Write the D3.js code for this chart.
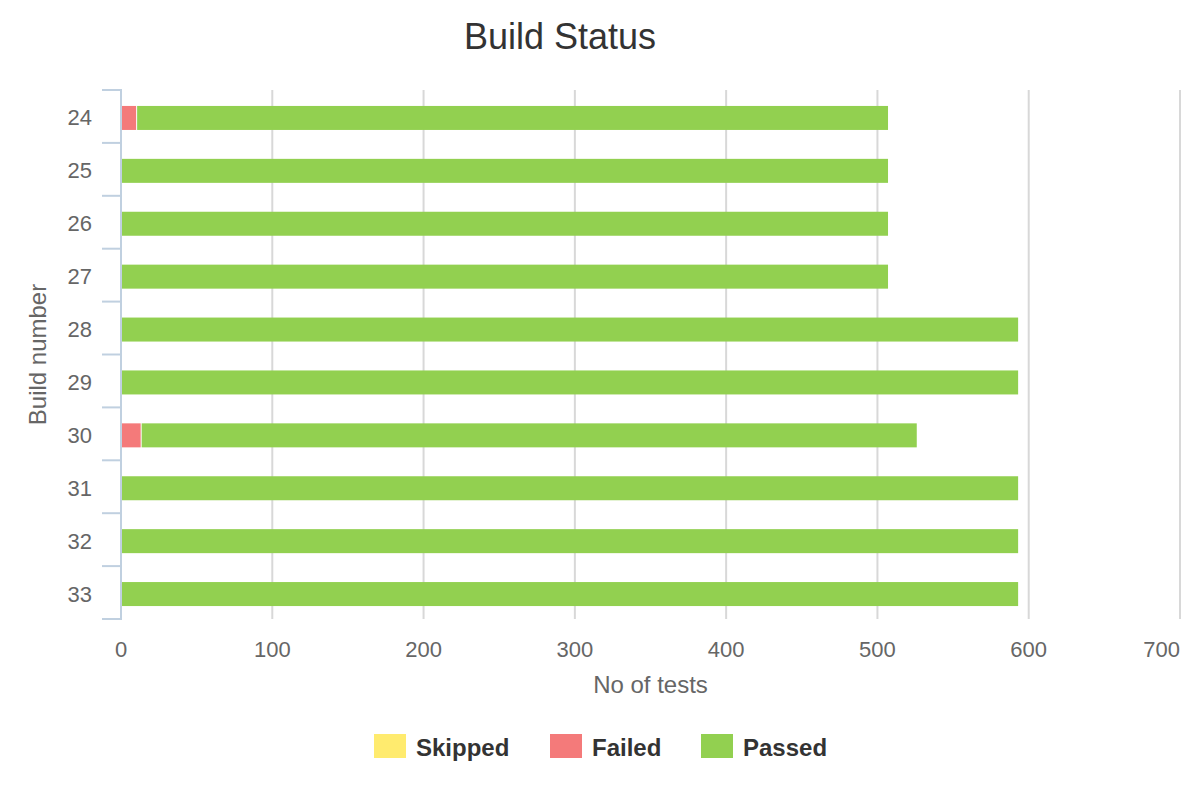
<!DOCTYPE html>
<html><head><meta charset="utf-8">
<script src="https://cdn.jsdelivr.net/npm/d3@7"></script>
<style>body{margin:0;background:#fff;font-family:"Liberation Sans",Arial,sans-serif;}</style>
</head><body><svg id="c" width="1200" height="800"></svg>
<script>
const builds = ["24","25","26","27","28","29","30","31","32","33"];
const skipped = [0,0,0,0,0,0,0,0,0,0];
const failed  = [10,0,0,0,0,0,13,0,0,0];
const passed  = [497,507,507,507,593,593,513,593,593,593];
const seriesNames = ["Skipped","Failed","Passed"];
const seriesColors = ["#ffeb6e","#f47a7a","#92d050"];
const xTicks = [0,100,200,300,400,500,600,700];

const svg = d3.select("#c");
const L = 121, R = 1180, T = 90, B = 619;
const x = d3.scaleLinear().domain([0,700]).range([L,R]);
const y = d3.scaleBand().domain(builds).range([T,B]);

// title
svg.append("text").attr("x",560).attr("y",49).attr("text-anchor","middle")
  .attr("font-size",36).attr("fill","#333").text("Build Status");

// grid
svg.append("g").selectAll("line").data(xTicks.slice(1)).join("line")
  .attr("x1",d=>x(d)).attr("x2",d=>x(d)).attr("y1",T).attr("y2",B)
  .attr("stroke","#d8d8d8").attr("stroke-width",2);

// stacked bars
const stack = d3.stack().keys([0,1,2]).value((d,k)=>[skipped,failed,passed][k][d]);
const layers = stack(builds.map((b,i)=>i));
const barH = 24;
layers.forEach((layer,k)=>{
  svg.append("g").selectAll("rect").data(layer.filter(d=>d[1]-d[0]>0)).join("rect")
    .attr("x",d=>x(d[0])+1).attr("width",d=>Math.max(0,x(d[1])-x(d[0])-1))
    .attr("y",d=>y(builds[d.data])+y.bandwidth()/2-barH/2+1.5).attr("height",barH)
    .attr("fill",seriesColors[k]);
});

// y axis
const yAxis = svg.append("g");
yAxis.append("line").attr("x1",L).attr("x2",L).attr("y1",T-1).attr("y2",B+1)
  .attr("stroke","#c0d0e0").attr("stroke-width",2);
const bounds = builds.map(b=>y(b)).concat([B]);
yAxis.selectAll("line.t").data(bounds).join("line").attr("class","t")
  .attr("x1",102).attr("x2",L).attr("y1",d=>d).attr("y2",d=>d)
  .attr("stroke","#c0d0e0").attr("stroke-width",2);
yAxis.selectAll("text").data(builds).join("text")
  .attr("x",92).attr("y",d=>y(d)+y.bandwidth()/2+9).attr("text-anchor","end")
  .attr("font-size",22).attr("fill","#666").text(d=>d);
svg.append("text").attr("transform",`translate(46,${(T+B)/2}) rotate(-90)`)
  .attr("text-anchor","middle").attr("font-size",24).attr("fill","#666").text("Build number");

// x axis labels
svg.append("g").selectAll("text").data(xTicks).join("text")
  .attr("x",d=>d===700?R:x(d)).attr("y",657).attr("text-anchor",d=>d===700?"end":"middle")
  .attr("font-size",22).attr("fill","#666").text(d=>d);
svg.append("text").attr("x",(L+R)/2).attr("y",693).attr("text-anchor","middle")
  .attr("font-size",24).attr("fill","#666").text("No of tests");

// legend
const legX = [374,550,701];
const leg = svg.append("g");
seriesNames.forEach((n,i)=>{
  leg.append("rect").attr("x",legX[i]).attr("y",734).attr("width",32).attr("height",24).attr("fill",seriesColors[i]);
  leg.append("text").attr("x",legX[i]+42).attr("y",756).attr("font-size",24).attr("font-weight","bold")
    .attr("fill","#333").text(n);
});
</script></body></html>
